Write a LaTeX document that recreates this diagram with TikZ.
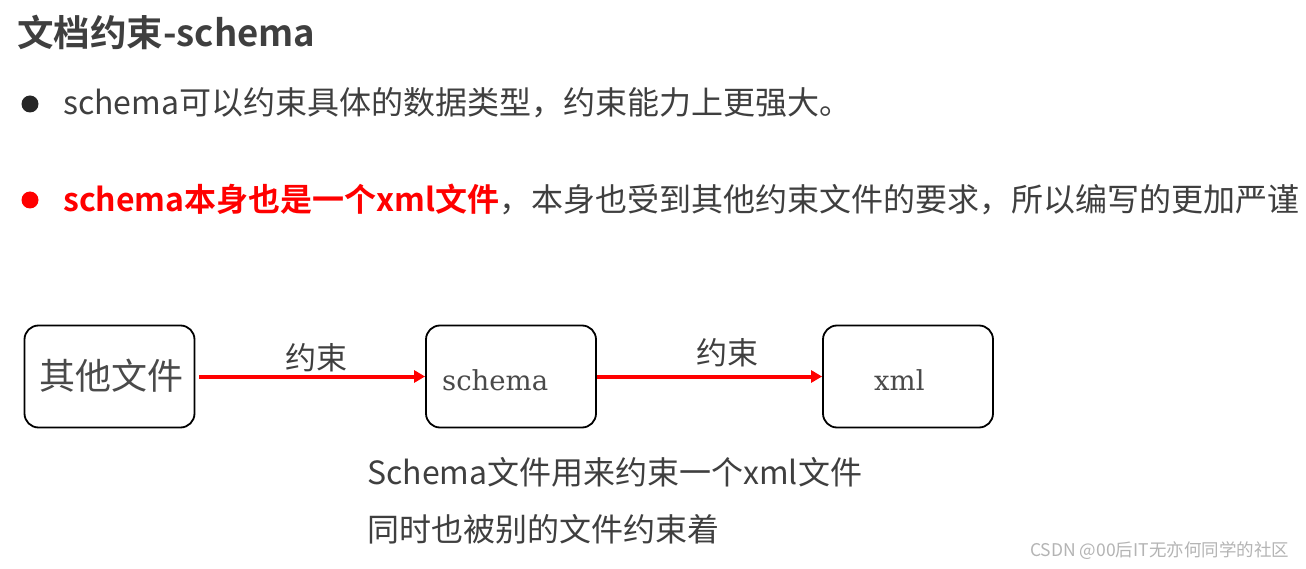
\documentclass[tikz,border=0pt]{standalone}
\usepackage{fontspec}
\usetikzlibrary{arrows.meta}
\newfontfamily\cjk[BoldFont={Noto Sans CJK SC Bold}]{Noto Sans CJK SC}
\newfontfamily\serifl{DejaVu Serif}
\definecolor{txt}{HTML}{3F3F3F}
\definecolor{boxtxt}{HTML}{4A4A4A}
\definecolor{wm}{HTML}{B4B4B4}
\definecolor{myred}{HTML}{FF0000}
\tikzset{
  title/.style={font=\cjk\bfseries\fontsize{36.5}{40}\selectfont, text=txt, anchor=base west, inner sep=0pt},
  body/.style={font=\cjk\fontsize{32}{38}\selectfont, text=txt, anchor=base west, inner sep=0pt},
  filebox/.style={draw=black, line width=1.8pt, rounded corners=14pt, minimum width=170pt, minimum height=102pt, inner sep=0pt},
  cjkbox/.style={font=\cjk\fontsize{36}{40}\selectfont, text=boxtxt, inner sep=0pt},
  latbox/.style={font=\serifl\fontsize{27.5}{30}\selectfont, text=boxtxt, anchor=base west, inner sep=0pt},
  lbl/.style={font=\cjk\fontsize{31}{36}\selectfont, text=txt, inner sep=0pt},
  redarrow/.style={draw=myred, line width=4pt, -{Triangle[length=11pt,width=12pt]}},
  wmark/.style={font=\cjk\fontsize{17.5}{20}\selectfont, text=wm, anchor=base west, inner sep=0pt}
}
\begin{document}
\begin{tikzpicture}[x=1pt,y=-1pt]
\useasboundingbox (0,0) rectangle (1306,569);
\fill[white] (0,0) rectangle (1306,569);
% title
\node[title] (t) at (17,47) {文档约束-schema};
% bullets
\fill[black!85] (30,104) circle (8.5);
\node[body] (p1) at (63,115) {schema可以约束具体的数据类型，约束能力上更强大。};
\fill[myred] (30,200) circle (8.5);
\node[body] (p2) at (63,212) {\textcolor{myred}{\bfseries schema本身也是一个xml文件}，本身也受到其他约束文件的要求，所以编写的更加严谨};
% boxes
\node[filebox] (b1) at (109.5,376.5) {};
\node[filebox] (b2) at (511,376.5) {};
\node[filebox] (b3) at (908,376.5) {};
\node[cjkbox] (b1t) at (111,376) {其他文件};
\node[latbox] (b2t) at (442,390) {schema};
\node[latbox] (b3t) at (874,390) {xml};
% arrows
\draw[redarrow] ([xshift=4pt]b1.east) -- (b2.west);
\draw[redarrow] (b2.east) -- (b3.west);
\node[lbl] (l1) at (316,358) {约束};
\node[lbl] (l2) at (727,353) {约束};
% bottom text
\node[body] (n1) at (367,484) {Schema文件用来约束一个xml文件};
\node[body] (n2) at (367,541) {同时也被别的文件约束着};
\node[wmark] (w) at (1030,556) {CSDN @00后IT无亦何同学的社区};
\end{tikzpicture}
\end{document}
